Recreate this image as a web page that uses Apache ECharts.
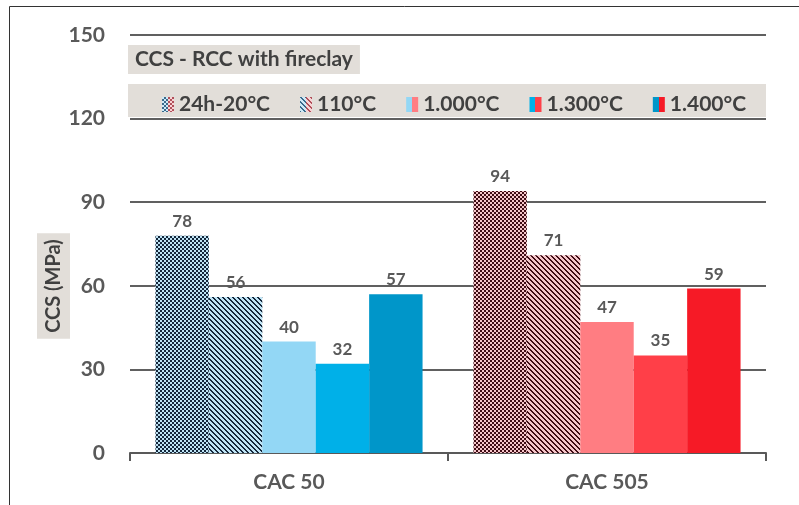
<!DOCTYPE html>
<html>
<head>
<meta charset="utf-8">
<script src="https://cdn.jsdelivr.net/npm/echarts@6/dist/echarts.min.js"></script>
<style>
html,body{margin:0;padding:0;background:#fff;}
#chart{width:799px;height:505px;}
</style>
</head>
<body>
<div id="chart"></div>
<script>
// ---- data ----
var categories = ['CAC 50', 'CAC 505'];
var seriesNames = ['24h-20°C', '110°C', '1.000°C', '1.300°C', '1.400°C'];
var v24h = [78, 94];
var v110 = [56, 71];
var v1000 = [40, 47];
var v1300 = [32, 35];
var v1400 = [57, 59];
var yTicks = [0, 30, 60, 90, 120, 150];

// ---- patterns ----
function checker(dark, light) {
  var c = document.createElement('canvas'); c.width = 4; c.height = 4;
  var g = c.getContext('2d');
  g.fillStyle = dark; g.fillRect(0, 0, 4, 4);
  g.fillStyle = light; g.fillRect(0, 0, 2, 2); g.fillRect(2, 2, 2, 2);
  return c;
}
function stripes(dark, light) {
  var n = 5;
  var c = document.createElement('canvas'); c.width = n; c.height = n;
  var g = c.getContext('2d');
  for (var x = 0; x < n; x++) for (var y = 0; y < n; y++) {
    g.fillStyle = (((x - y) % n + n) % n) < 2 ? dark : light;
    g.fillRect(x, y, 1, 1);
  }
  return c;
}
function legendIcon(kind) {
  var c = document.createElement('canvas'); c.width = 12; c.height = 15;
  var g = c.getContext('2d');
  var L = kind === 'c' ? checker('#3a6a8c', '#cfeaf7') : stripes('#3a6a8c', '#cfeaf7');
  var R = kind === 'c' ? checker('#b0505a', '#f8d4d6') : stripes('#b0505a', '#f8d4d6');
  g.fillStyle = g.createPattern(L, 'repeat'); g.fillRect(0, 0, 6, 15);
  g.fillStyle = g.createPattern(R, 'repeat'); g.fillRect(6, 0, 6, 15);
  return c;
}
function split(a, b) {
  return { type: 'linear', x: 0, y: 0, x2: 1, y2: 0,
    colorStops: [{offset: 0, color: a}, {offset: 0.5, color: a}, {offset: 0.5, color: b}, {offset: 1, color: b}] };
}

var fills = [
  [{image: checker('#14263a', '#bfe4f5'), repeat: 'repeat'}, {image: checker('#3e0c14', '#f6c6ca'), repeat: 'repeat'}],
  [{image: stripes('#14263a', '#bfe4f5'), repeat: 'repeat'}, {image: stripes('#3e0c14', '#f6c6ca'), repeat: 'repeat'}],
  ['#93d7f5', '#ff7d82'],
  ['#00b0e8', '#ff3f48'],
  ['#0096c9', '#f61a26']
];
var legendColors = [
  {image: legendIcon('c'), repeat: 'no-repeat'},
  {image: legendIcon('s'), repeat: 'no-repeat'},
  split('#93d7f5', '#ff7d82'),
  split('#00b0e8', '#ff3f48'),
  split('#0096c9', '#f61a26')
];
var allValues = [v24h, v110, v1000, v1300, v1400];

var FONT = 'Lato, "Open Sans", sans-serif';

var series = seriesNames.map(function (name, i) {
  return {
    name: name,
    type: 'bar',
    barGap: '0%',
    barCategoryGap: '16%',
    data: allValues[i].map(function (v, j) {
      return { value: v, itemStyle: { color: fills[i][j] } };
    }),
    label: {
      show: true, position: 'top', distance: 6,
      color: '#595959', fontFamily: FONT, fontWeight: 'bold', fontSize: 17
    }
  };
});

var chart = echarts.init(document.getElementById('chart'), null, {renderer: 'canvas'});
chart.setOption({
  animation: false,
  backgroundColor: '#fff',
  title: {
    text: 'CCS - RCC with fireclay',
    left: 128, top: 45,
    backgroundColor: '#e2ded9',
    padding: [4, 7, 4, 7],
    textStyle: { color: '#404040', fontFamily: FONT, fontWeight: 'bold', fontSize: 21 }
  },
  legend: {
    data: seriesNames.map(function (n, i) { return { name: n, itemStyle: { color: legendColors[i] } }; }),
    left: 157, top: 89,
    icon: 'rect',
    itemWidth: 12, itemHeight: 15, itemGap: 30,
    selectedMode: false,
    textStyle: { color: '#404040', fontFamily: FONT, fontWeight: 'bold', fontSize: 21 }
  },
  graphic: [
    { type: 'rect', left: 128, top: 84, shape: { width: 638, height: 33 }, style: { fill: '#e2ded9' }, z: 0, silent: true },
    { type: 'line', shape: { x1: 9.5, y1: 6.5, x2: 799, y2: 6.5 }, style: { stroke: '#333', lineWidth: 1 }, z: 10 },
    { type: 'line', shape: { x1: 9.5, y1: 6.5, x2: 9.5, y2: 505 }, style: { stroke: '#333', lineWidth: 1 }, z: 10 }
  ],
  grid: { left: 130, right: 33, top: 35, bottom: 52 },
  xAxis: {
    type: 'category',
    data: categories,
    axisLine: { lineStyle: { color: '#595959', width: 2 } },
    axisTick: { show: true, length: 8, lineStyle: { color: '#595959', width: 2 } },
    axisLabel: { margin: 19, color: '#595959', fontFamily: FONT, fontWeight: 'bold', fontSize: 21 }
  },
  yAxis: {
    type: 'value',
    min: yTicks[0], max: yTicks[yTicks.length - 1], interval: 30,
    name: '{a|CCS (MPa)}',
    nameLocation: 'middle',
    nameGap: 60,
    nameMoveOverlap: false,
    nameTextStyle: {
      padding: [0, 84, 0, 0],
      rich: {
        a: {
          color: '#404040', fontFamily: FONT, fontWeight: 'bold', fontSize: 20,
          backgroundColor: '#e2ded9', padding: [7, 6, 6, 6]
        }
      }
    },
    axisLine: { show: false },
    axisTick: { show: false },
    axisLabel: { margin: 25, color: '#595959', fontFamily: FONT, fontWeight: 'bold', fontSize: 21 },
    splitLine: { lineStyle: { color: '#2b2b2b', width: 1.6 } }
  },
  series: series
});
</script>
</body>
</html>
